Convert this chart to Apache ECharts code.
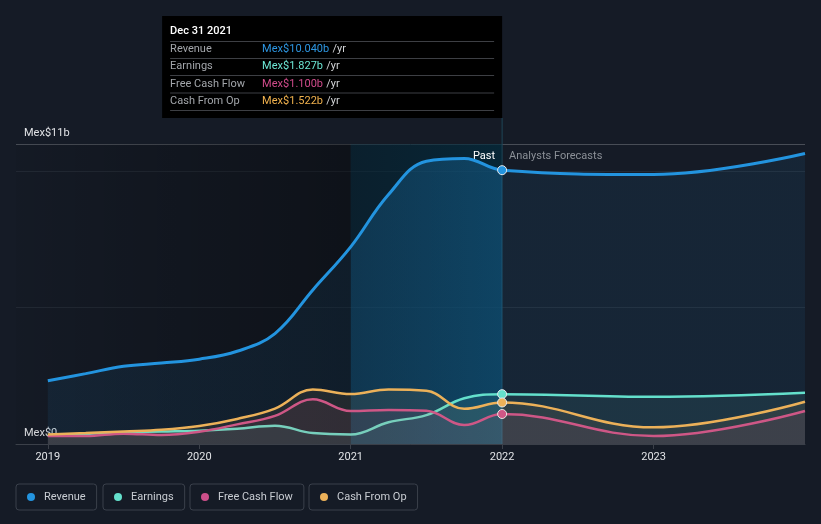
<!DOCTYPE html>
<html><head><meta charset="utf-8">
<script src="https://cdn.jsdelivr.net/npm/echarts@6/dist/echarts.min.js"></script>
<style>html,body{margin:0;padding:0;background:#151b26;}#c{width:821px;height:524px;}</style>
</head><body><div id="c"></div>
<script>
// ---- data ----
const years = [2019.0, 2019.25, 2019.5, 2019.75, 2020.0, 2020.25, 2020.5, 2020.75, 2021.0, 2021.25, 2021.5, 2021.75, 2022.0, 2023.0, 2024.0];
const revenue = [2.32, 2.58, 2.85, 2.97, 3.11, 3.40, 4.05, 5.65, 7.23, 9.15, 10.37, 10.47, 10.04, 9.88, 10.65];
const earnings = [0.33, 0.37, 0.43, 0.46, 0.49, 0.56, 0.67, 0.40, 0.35, 0.80, 1.06, 1.68, 1.827, 1.73, 1.88];
const freeCashFlow = [0.29, 0.29, 0.38, 0.33, 0.45, 0.72, 1.03, 1.64, 1.21, 1.25, 1.22, 0.70, 1.10, 0.29, 1.21];
const cashFromOp = [0.35, 0.40, 0.46, 0.52, 0.66, 0.92, 1.30, 2.00, 1.83, 2.00, 1.95, 1.29, 1.522, 0.61, 1.55];
const seriesNames = ['Revenue', 'Earnings', 'Free Cash Flow', 'Cash From Op'];
const xTicks = [2019, 2020, 2021, 2022, 2023];
const yLabelValues = [0, 11];
const tooltipDate = 'Dec 31 2021';
const pastEndIndex = 12;        // Dec 31 2021
const highlightStart = 2021.0;  // last twelve months band
const xMin = 2018.79, xMax = 2024.0;

// ---- styles ----
const colors = ['#2394df', '#64e0cc', '#cc4f8a', '#ecb159'];
const valueColors = ['#2d96e2', '#6ce6d4', '#d04b8b', '#f0b14d'];
const font = 'Roboto, "Noto Sans", sans-serif';
function rgba(hex, a) {
  const n = parseInt(hex.slice(1), 16);
  return `rgba(${(n >> 16) & 255},${(n >> 8) & 255},${n & 255},${a})`;
}
const valuesList = [revenue, earnings, freeCashFlow, cashFromOp];

function mkSeries(i) {
  const vals = valuesList[i], color = colors[i];
  let area = rgba(color, 0.12);
  if (i === 0) {
    const span = years[years.length - 1] - years[0];
    const a = (highlightStart - years[0]) / span;
    const b = (years[pastEndIndex] - years[0]) / span;
    area = {type: 'linear', x: 0, y: 0, x2: 1, y2: 0, colorStops: [
      {offset: 0, color: rgba(color, 0.12)}, {offset: a, color: rgba(color, 0.12)},
      {offset: a, color: rgba(color, 0.28)}, {offset: b, color: rgba(color, 0.38)},
      {offset: b, color: rgba(color, 0.12)}, {offset: 1, color: rgba(color, 0.12)}]};
  }
  return {
    name: seriesNames[i], type: 'line', smooth: 0.4,
    symbol: 'none', showSymbol: true, silent: true, z: 2 + i,
    emphasis: {disabled: true},
    lineStyle: {color, width: i === 0 ? 3 : 2.5},
    itemStyle: {color},
    areaStyle: {color: area, origin: 'start'},
    data: years.map((y, k) => k === pastEndIndex
      ? {value: [y, vals[k]], symbol: 'circle', symbolSize: 9,
         itemStyle: {color, borderColor: '#e8ebef', borderWidth: 1}}
      : [y, vals[k]])
  };
}

const bgSeries = {
  name: 'bands', type: 'line', data: [], silent: true, z: 1,
  markArea: {silent: true, data: [
    [{xAxis: xMin, itemStyle: {color: {type: 'linear', x: 0, y: 0, x2: 1, y2: 0, colorStops: [
        {offset: 0, color: 'rgba(0,0,0,0.04)'}, {offset: 1, color: 'rgba(0,0,0,0.34)'}]}}},
     {xAxis: highlightStart}],
    [{xAxis: highlightStart, itemStyle: {color: {type: 'linear', x: 0, y: 0, x2: 1, y2: 0, colorStops: [
        {offset: 0, color: 'rgba(0,36,52,0.5)'}, {offset: 1, color: 'rgba(0,44,62,0.68)'}]}},
      label: {show: true, position: 'insideTopRight', distance: 7, formatter: 'Past',
        color: '#ffffff', fontSize: 11, fontFamily: font}},
     {xAxis: years[pastEndIndex]}],
    [{xAxis: years[pastEndIndex], itemStyle: {color: 'rgba(0,0,0,0)'},
      label: {show: true, position: 'insideTopLeft', distance: 7, formatter: 'Analysts Forecasts',
        color: '#8b9097', fontSize: 11, fontFamily: font}},
     {xAxis: xMax}]
  ]}
};

const legendLefts = [16, 103, 190, 309];
const legends = seriesNames.map((n, i) => ({
  data: [{name: n, icon: 'circle'}], left: legendLefts[i], top: 484,
  orient: 'horizontal', itemWidth: 8, itemHeight: 8, selectedMode: false,
  padding: [6, 11], borderColor: '#3a404b', borderWidth: 1, borderRadius: 3,
  textStyle: {color: '#c9cdd3', fontSize: 11, fontFamily: font, lineHeight: 14, padding: [0, 0, 0, 4]}
}));

const chart = echarts.init(document.getElementById('c'), null, {renderer: 'canvas'});
chart.setOption({
  backgroundColor: '#151b26',
  animation: false,
  textStyle: {fontFamily: font},
  grid: {left: 16, right: 16, top: 144, bottom: 80},
  legend: legends,
  xAxis: {
    type: 'value', min: xMin, max: xMax,
    axisLine: {lineStyle: {color: '#3b4049'}},
    axisTick: {customValues: xTicks, length: 5, lineStyle: {color: '#3b4049'}},
    axisLabel: {customValues: xTicks, formatter: v => String(Math.round(v)),
      color: '#e1e3e6', fontSize: 11, margin: 8, fontFamily: font},
    splitLine: {show: false}
  },
  yAxis: {
    type: 'value', min: 0, max: 11, interval: 5,
    axisLine: {show: false}, axisTick: {show: false},
    axisLabel: {inside: true, customValues: yLabelValues, margin: 8,
      formatter: v => 'Mex$' + (v === 0 ? '0' : v + 'b'),
      color: '#e1e3e6', fontSize: 11, fontFamily: font, verticalAlign: 'bottom', padding: [0, 0, 5, 0]},
    splitLine: {lineStyle: {color: ['#3b4049', '#232a35', '#232a35', '#484d56'], width: 1}}
  },
  series: [bgSeries].concat(seriesNames.map((n, i) => mkSeries(i)))
});

// ---- tooltip-like box anchored to the Dec 31 2021 point ----
const pTop = chart.convertToPixel({gridIndex: 0}, [years[pastEndIndex], 11]);
const pBase = chart.convertToPixel({gridIndex: 0}, [years[pastEndIndex], 0]);
const boxW = 340, boxTop = 16, boxH = 102;
const right = pTop[0], left = right - boxW;
const rowY = [49.5, 66.5, 84, 101];
const sepY = [41.5, 58.5, 75.5, 93, 110.5];
const gEls = [
  {type: 'line', shape: {x1: right, y1: boxTop + boxH, x2: right, y2: pBase[1]},
   style: {stroke: '#1e4657', lineWidth: 1}, z: 1, silent: true},
  {type: 'rect', shape: {x: left, y: boxTop, width: boxW, height: boxH}, style: {fill: '#000000'}, z: 100},
  {type: 'text', x: left + 8, y: 31, z: 101,
   style: {text: tooltipDate, fill: '#ffffff', font: '500 11px ' + font, verticalAlign: 'middle'}}
];
sepY.forEach(y => gEls.push({type: 'line', z: 101,
  shape: {x1: left + 8, y1: y, x2: right - 8, y2: y}, style: {stroke: '#3d3f44', lineWidth: 1}}));
seriesNames.forEach((n, i) => {
  gEls.push({type: 'text', x: left + 8, y: rowY[i], z: 101,
    style: {text: n, fill: '#a3a6ab', font: '11px ' + font, verticalAlign: 'middle'}});
  gEls.push({type: 'text', x: left + 100, y: rowY[i], z: 101,
    style: {text: '{v|Mex$' + valuesList[i][pastEndIndex].toFixed(3) + 'b} {u|/yr}', verticalAlign: 'middle',
      rich: {v: {fill: valueColors[i], font: '11px ' + font}, u: {fill: '#d3d5d8', font: '11px ' + font}}}});
});
chart.setOption({graphic: {elements: gEls}});
</script>
</body></html>
